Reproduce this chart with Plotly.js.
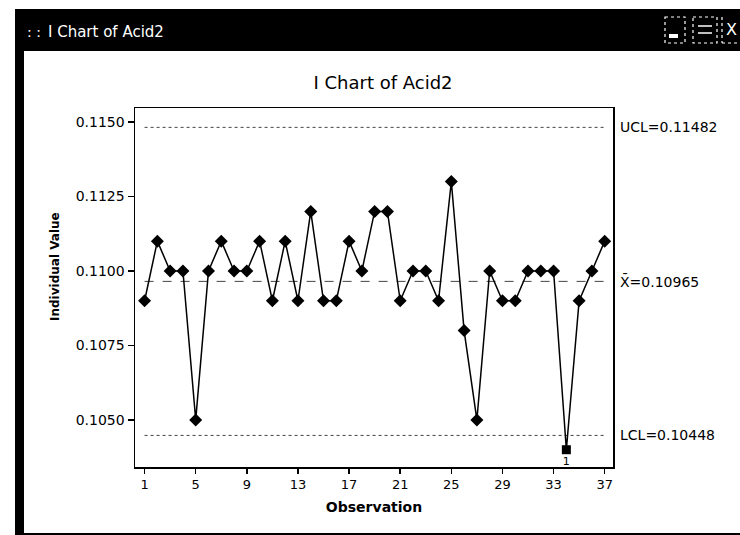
<!DOCTYPE html>
<html>
<head>
<meta charset="utf-8">
<script src="https://cdn.plot.ly/plotly-3.0.1.min.js"></script>
<style>
  html, body { margin: 0; padding: 0; background: #ffffff; }
  #chart { width: 740px; height: 535px; }
</style>
</head>
<body>
<div id="chart"></div>
<script>
// ---- data ----
const observation = [1,2,3,4,5,6,7,8,9,10,11,12,13,14,15,16,17,18,19,20,21,22,23,24,25,26,27,28,29,30,31,32,33,34,35,36,37];
const acid2 = [0.109,0.111,0.110,0.110,0.105,0.110,0.111,0.110,0.110,0.111,0.109,0.111,0.109,0.112,0.109,0.109,0.111,0.110,0.112,0.112,0.109,0.110,0.110,0.109,0.113,0.108,0.105,0.110,0.109,0.109,0.110,0.110,0.110,0.104,0.109,0.110,0.111];
const outOfControl = [34];          // observations failing test 1
const testLabel = '1';
const UCL = 0.11482;
const CL = 0.10965;
const LCL = 0.10448;
const xTicks = [1,5,9,13,17,21,25,29,33,37];
const yTicks = [0.1050,0.1075,0.1100,0.1125,0.1150];
const chartTitle = 'I Chart of Acid2';
const windowTitle = 'I Chart of Acid2';
const xTitle = 'Observation';
const yTitle = 'Individual Value';

// ---- layout geometry (pixels) ----
const W = 740, H = 535;
const L = 135, R = 613, T = 108, B = 467;
const pw = R - L, ph = B - T;
const px = x => (x - L) / pw;
const py = y => 1 - (y - T) / ph;

const symbols = observation.map(o => outOfControl.includes(o) ? 'square' : 'diamond');
const sizes = observation.map(o => outOfControl.includes(o) ? 9 : 10);
const labels = observation.map(o => outOfControl.includes(o) ? testLabel : '');

const xFirst = observation[0], xLast = observation[observation.length - 1];

const traces = [
  { x: [xFirst, xLast], y: [UCL, UCL], mode: 'lines', line: {color: '#444', width: 1, dash: 'dot'}, hoverinfo: 'skip' },
  { x: [xFirst, xLast], y: [CL, CL], mode: 'lines', line: {color: '#444', width: 1, dash: 'dash'}, hoverinfo: 'skip' },
  { x: [xFirst, xLast], y: [LCL, LCL], mode: 'lines', line: {color: '#444', width: 1, dash: 'dot'}, hoverinfo: 'skip' },
  {
    x: observation, y: acid2, mode: 'lines+markers+text',
    line: {color: '#000', width: 1.5},
    marker: {color: '#000', symbol: symbols, size: sizes, opacity: 1, line: {color: '#000', width: 0}},
    text: labels, textposition: 'bottom center',
    textfont: {family: 'DejaVu Sans', size: 11, color: '#000'}
  }
];

const white = '#ffffff';
const shapes = [
  // title bar
  {type: 'rect', xref: 'paper', yref: 'paper', x0: px(15), x1: px(740), y0: py(9), y1: py(51), fillcolor: '#000', line: {width: 0}, layer: 'above'},
  // left frame
  {type: 'rect', xref: 'paper', yref: 'paper', x0: px(15), x1: px(24), y0: py(51), y1: py(534), fillcolor: '#000', line: {width: 0}, layer: 'above'},
  // bottom frame
  {type: 'line', xref: 'paper', yref: 'paper', x0: px(15), x1: px(740), y0: py(534), y1: py(534), line: {color: '#000', width: 2}, layer: 'above'},
  // window buttons
  {type: 'rect', xref: 'paper', yref: 'paper', x0: px(665), x1: px(685), y0: py(17), y1: py(43), line: {color: white, width: 1.2, dash: 'dot'}, layer: 'above'},
  {type: 'rect', xref: 'paper', yref: 'paper', x0: px(669), x1: px(678), y0: py(34), y1: py(38), fillcolor: white, line: {width: 0}, layer: 'above'},
  {type: 'rect', xref: 'paper', yref: 'paper', x0: px(693), x1: px(717), y0: py(17), y1: py(43), line: {color: white, width: 1.2, dash: 'dot'}, layer: 'above'},
  {type: 'line', xref: 'paper', yref: 'paper', x0: px(698), x1: px(712), y0: py(26), y1: py(26), line: {color: white, width: 1.5}, layer: 'above'},
  {type: 'line', xref: 'paper', yref: 'paper', x0: px(698), x1: px(712), y0: py(33), y1: py(33), line: {color: white, width: 1.5}, layer: 'above'},
  {type: 'line', xref: 'paper', yref: 'paper', x0: px(722), x1: px(722), y0: py(17), y1: py(43), line: {color: white, width: 1.2, dash: 'dot'}, layer: 'above'},
  {type: 'line', xref: 'paper', yref: 'paper', x0: px(722), x1: px(740), y0: py(43), y1: py(43), line: {color: white, width: 1.2, dash: 'dot'}, layer: 'above'}
];

const labFont = {family: 'DejaVu Sans', size: 14, color: '#000'};
const annotations = [
  {xref: 'paper', yref: 'y', x: 1, y: UCL, xshift: 5, xanchor: 'left', yanchor: 'middle', showarrow: false, text: 'UCL=' + UCL.toFixed(5), font: labFont},
  {xref: 'paper', yref: 'y', x: 1, y: CL, xshift: 5, xanchor: 'left', yanchor: 'middle', showarrow: false, text: 'X\u0304=' + CL.toFixed(5), font: labFont},
  {xref: 'paper', yref: 'y', x: 1, y: LCL, xshift: 5, xanchor: 'left', yanchor: 'middle', showarrow: false, text: 'LCL=' + LCL.toFixed(5), font: labFont},
  {xref: 'paper', yref: 'paper', x: px(55), y: py(267), xanchor: 'center', yanchor: 'middle', textangle: -90, showarrow: false, text: yTitle, font: {family: 'DejaVu Sans', size: 12, weight: 'bold', color: '#000'}},
  {xref: 'paper', yref: 'paper', x: px(25), y: py(32), xanchor: 'left', yanchor: 'middle', showarrow: false, text: ': :', font: {family: 'DejaVu Sans', size: 14, color: white}},
  {xref: 'paper', yref: 'paper', x: px(46), y: py(32), xanchor: 'left', yanchor: 'middle', showarrow: false, text: windowTitle, font: {family: 'DejaVu Sans', size: 15, color: white}},
  {xref: 'paper', yref: 'paper', x: px(731), y: py(30), xanchor: 'center', yanchor: 'middle', showarrow: false, text: 'X', font: {family: 'DejaVu Sans', size: 16, color: white}}
];

const layout = {
  width: W, height: H,
  margin: {l: L, r: W - R, t: T, b: H - B, pad: 0},
  paper_bgcolor: '#ffffff', plot_bgcolor: '#ffffff',
  showlegend: false,
  title: {
    text: chartTitle,
    font: {family: 'DejaVu Sans', size: 18, color: '#000'},
    xref: 'paper', x: px(383), xanchor: 'center',
    yref: 'container', y: 1 - 83 / H, yanchor: 'middle'
  },
  xaxis: {
    range: [0.25, 37.65],
    tickvals: xTicks, ticktext: xTicks.map(String),
    ticks: 'outside', ticklen: 5, tickwidth: 1.5, tickcolor: '#000',
    showline: true, linecolor: '#000', linewidth: 1.5, mirror: true,
    showgrid: false, zeroline: false,
    tickfont: {family: 'DejaVu Sans', size: 13, color: '#000'},
    title: {text: xTitle, font: {family: 'DejaVu Sans', size: 14, weight: 'bold', color: '#000'}, standoff: 11}
  },
  yaxis: {
    range: [0.10342, 0.11547],
    tickvals: yTicks, ticktext: yTicks.map(v => v.toFixed(4)),
    ticks: 'outside', ticklen: 6, tickwidth: 1.5, tickcolor: '#000',
    showline: true, linecolor: '#000', linewidth: 1.5, mirror: true,
    showgrid: false, zeroline: false,
    tickfont: {family: 'DejaVu Sans', size: 14, color: '#000'}
  },
  shapes: shapes,
  annotations: annotations
};

Plotly.newPlot('chart', traces, layout, {staticPlot: true, displayModeBar: false});
</script>
</body>
</html>
